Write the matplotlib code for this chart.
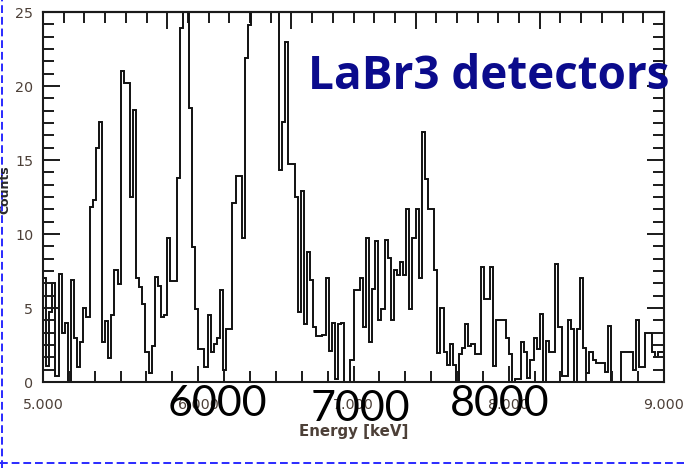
import numpy as np
import matplotlib
matplotlib.use("Agg")
import matplotlib.pyplot as plt
from matplotlib.ticker import MultipleLocator, FixedLocator
from matplotlib.lines import Line2D

# energy binning: 20 keV bins from 5 to 9 MeV
e_lo, e_hi, n_bins = 5000, 9000, 200
edges = np.linspace(e_lo, e_hi, n_bins + 1)

# counts per bin (peaks above 25 run off the top of the frame)
counts = [
    7.0, 1.1, 4.7, 6.7, 0.4, 7.3, 3.3, 4.0, 0.0, 6.9,
    3.0, 1.0, 2.7, 5.0, 4.4, 11.8, 12.3, 15.8, 17.6, 2.7,
    4.1, 1.6, 4.5, 7.6, 6.6, 21.0, 20.2, 20.2, 12.5, 18.4,
    7.0, 6.4, 5.3, 2.0, 0.6, 2.4, 7.1, 6.5, 4.4, 4.5,
    9.7, 6.8, 6.8, 13.8, 23.9, 33.0, 38.0, 18.5, 9.1, 4.9,
    2.2, 2.2, 1.0, 4.5, 2.0, 2.6, 3.0, 6.2, 0.8, 3.6,
    3.6, 12.1, 13.9, 13.9, 9.7, 21.9, 24.1, 31.0, 42.0, 55.0,
    68.0, 74.0, 66.0, 52.0, 39.0, 28.0, 14.3, 17.6, 23.0, 14.7,
    14.7, 12.5, 4.7, 12.9, 3.9, 8.8, 6.9, 3.7, 3.1, 3.1,
    3.2, 7.0, 2.1, 4.0, 0.2, 3.9, 4.0, 0.0, 0.0, 1.5,
    6.2, 6.2, 7.0, 3.7, 9.7, 2.7, 6.3, 9.5, 4.2, 4.9,
    9.6, 8.4, 4.2, 7.6, 7.2, 8.1, 7.2, 11.7, 4.9, 9.7,
    11.7, 7.0, 16.9, 13.7, 11.7, 11.7, 7.6, 1.95, 5.0, 2.0,
    1.15, 2.6, 1.15, 0.0, 1.9, 2.3, 3.9, 2.4, 2.6, 1.9,
    1.9, 7.8, 5.6, 5.6, 7.8, 1.1, 4.2, 4.2, 4.2, 3.0,
    1.9, 0.0, 0.2, 0.2, 2.7, 2.0, 0.3, 1.5, 3.0, 2.2,
    4.6, 0.0, 2.8, 2.0, 2.0, 8.0, 3.7, 0.4, 0.4, 4.2,
    3.6, 0.0, 3.6, 7.0, 2.3, 0.6, 2.0, 1.5, 1.3, 1.3,
    1.3, 0.7, 3.8, 0.0, 0.0, 0.0, 2.0, 2.0, 2.0, 2.0,
    0.8, 4.2, 1.0, 1.0, 3.3, 3.3, 2.0, 1.7, 2.0, 2.0,
]

x_major = [5000, 6000, 7000, 8000, 9000]
x_labels = ["5.000", "6.000", "7.000", "8.000", "9.000"]
y_major = [0, 5, 10, 15, 20, 25]
big_labels = ["6000", "7000", "8000"]

W, H = 684, 468
fig = plt.figure(figsize=(W / 100, H / 100), dpi=100)
ax = fig.add_axes([43 / W, 86 / H, 621 / W, 370 / H])

ax.stairs(counts, edges, baseline=0, color="#111111", lw=1.4)
ax.set_xlim(e_lo, e_hi)
ax.set_ylim(0, 25)

lab_col = "#4d4038"
ax.set_xticks(x_major)
ax.set_xticklabels(x_labels)
ax.xaxis.set_minor_locator(MultipleLocator(1000 / 6))
ax.set_yticks(y_major)
ax.yaxis.set_minor_locator(MultipleLocator(5 / 6))
ax.tick_params(which="both", direction="in", width=1.4, colors="#1a1a1a",
               labelcolor=lab_col, labelsize=10.3, top=False, right=True)
ax.tick_params(axis="x", which="major", length=11.5, pad=11.5)
ax.tick_params(axis="x", which="minor", length=8)
ax.tick_params(axis="y", which="major", length=12.5, pad=7)
ax.tick_params(axis="y", which="minor", length=8)
for s in ax.spines.values():
    s.set_linewidth(1.5)
    s.set_color("#1a1a1a")

# top axis carries its own division (5 x 6)
top = ax.secondary_xaxis("top", functions=(lambda e: (e - 5000) / 800,
                                           lambda t: t * 800 + 5000))
top.xaxis.set_major_locator(FixedLocator(range(6)))
top.xaxis.set_minor_locator(MultipleLocator(1 / 6))
top.tick_params(which="both", direction="in", width=1.4, colors="#1a1a1a",
                labeltop=False)
top.tick_params(which="major", length=12.5)
top.tick_params(which="minor", length=8)
top.spines["top"].set_linewidth(1.5)

ax.set_xlabel("Energy [keV]", fontsize=10.8, fontweight="bold",
              color=lab_col, labelpad=9)
fig.text(5 / W, 1 - 190 / H, "Counts", rotation=90, fontsize=9,
         fontweight="bold", color="#2a2a2a", ha="center", va="center")

# slide annotations
fig.text(308 / W, 1 - 89 / H, "LaBr3 detectors", fontsize=33,
         fontweight="bold", family="Open Sans", color="#0b0b8c",
         ha="left", va="baseline")
for lbl, xc, yb in zip(big_labels, [217, 360, 500], [416, 421, 416]):
    fig.text(xc / W, 1 - yb / H, lbl, fontsize=31, family="Lato",
             color="black", ha="center", va="baseline")

# dashed selection frame
dash_kw = dict(color="#2a2aff", lw=1.4, linestyle=(0, (4, 2)),
               transform=fig.transFigure)
fig.add_artist(Line2D([2 / W, 2 / W], [0, 1], **dash_kw))
fig.add_artist(Line2D([0, 1], [5 / H, 5 / H], **dash_kw))

fig.savefig("out.png", dpi=100)
